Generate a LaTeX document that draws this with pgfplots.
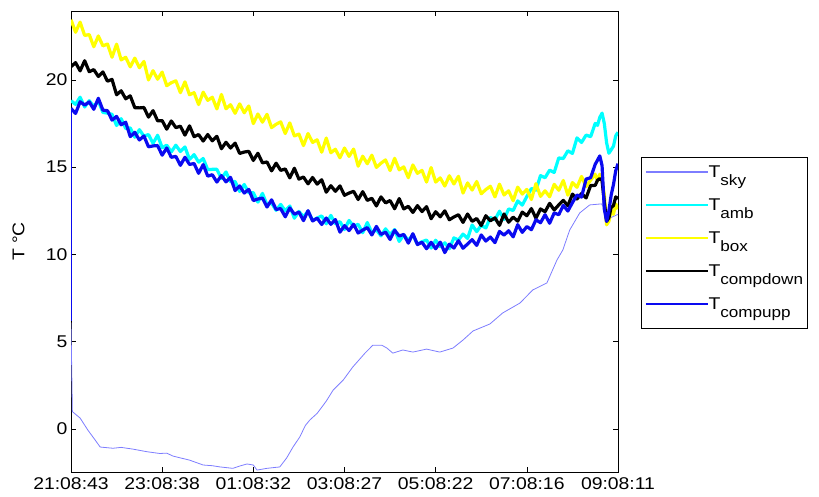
\documentclass[border=0pt]{standalone}
\usepackage{fontspec}
\setmainfont{Liberation Sans}[FakeStretch=1.14]
\usepackage{pgfplots}
\usepackage{pgfplotstable}
\pgfplotsset{compat=1.18}

\definecolor{skycol}{RGB}{125,125,255}
\definecolor{ambcol}{RGB}{0,255,255}
\definecolor{boxcol}{RGB}{255,255,0}
\definecolor{cdncol}{RGB}{0,0,0}
\definecolor{cupcol}{RGB}{10,10,240}

\newcommand{\mainfs}{\fontsize{17}{20}\selectfont}
\newcommand{\subs}[1]{\raisebox{-0.5em}{\fontsize{15}{16}\selectfont #1}}

% logged temperatures, hours after 21:08:43
\pgfplotstableread{
h     amb   box   cdn   cup
0.0   18.81 23.45 20.76 18.37
0.1   18.60 22.73 20.99 18.08
0.2   19.01 23.31 20.52 18.75
0.3   18.45 22.55 21.10 18.56
0.4   18.81 22.60 20.47 18.74
0.5   18.48 21.90 20.59 18.32
0.6   18.79 22.52 20.20 18.95
0.7   18.14 21.95 20.46 18.27
0.8   18.10 22.06 19.93 18.24
0.9   18.03 21.30 20.03 17.70
1.0   17.39 22.05 19.15 17.91
1.1   17.78 21.15 19.38 17.43
1.2   17.22 21.30 18.92 17.58
1.3   17.25 20.75 19.09 16.75
1.4   16.72 21.25 18.41 17.00
1.5   17.15 20.70 18.40 16.56
1.6   16.78 21.06 18.42 16.79
1.7   16.87 20.00 17.87 16.17
1.8   16.37 20.53 18.24 16.22
1.9   16.83 20.04 17.66 16.24
2.0   16.12 20.45 17.67 15.69
2.1   16.26 19.67 17.18 16.10
2.2   15.88 19.84 17.65 15.57
2.3   16.26 19.95 17.27 15.62
2.4   15.90 19.27 17.35 15.11
2.5   16.16 19.89 16.84 15.57
2.6   15.45 19.15 17.37 15.16
2.7   15.72 19.27 16.75 15.21
2.8   15.29 18.59 16.87 14.65
2.9   15.50 19.30 16.50 15.15
3.0   14.86 18.83 16.87 14.49
3.1   14.88 19.01 16.51 14.57
3.2   14.88 18.34 16.77 14.15
3.3   14.35 19.17 16.06 14.52
3.4   14.73 18.35 16.43 14.16
3.5   14.17 18.58 16.10 14.42
3.6   14.18 18.09 16.38 13.66
3.7   13.61 18.63 15.79 13.93
3.8   14.01 18.12 15.87 13.52
3.9   13.54 18.51 15.91 13.73
4.0   13.54 17.50 15.39 13.09
4.1   13.00 18.05 15.80 13.18
4.2   13.50 17.58 15.25 13.23
4.3   12.85 18.03 15.30 12.72
4.4   12.95 17.27 14.79 13.13
4.5   12.53 17.46 15.23 12.58
4.6   12.87 17.60 14.82 12.63
4.7   12.50 16.93 14.90 12.16
4.8   12.78 17.54 14.39 12.67
4.9   12.08 16.79 14.94 12.31
5.0   12.47 16.90 14.32 12.43
5.1   12.16 16.24 14.44 11.94
5.2   12.48 16.93 14.05 12.51
5.3   11.95 16.42 14.41 11.92
5.4   12.09 16.57 14.03 12.08
5.5   12.21 15.86 14.28 11.72
5.6   11.76 16.67 13.57 12.09
5.7   12.24 15.83 13.94 11.73
5.8   11.76 16.03 13.62 12.00
5.9   11.88 15.54 13.93 11.28
6.0   11.43 16.10 13.39 11.65
6.1   11.95 15.62 13.52 11.37
6.2   11.60 16.04 13.62 11.73
6.3   11.73 15.06 13.15 11.23
6.4   11.25 15.63 13.60 11.40
6.5   11.83 15.20 13.10 11.54
6.6   11.25 15.69 13.22 11.12
6.7   11.41 14.99 12.78 11.61
6.8   11.07 15.23 13.30 11.15
6.9   11.47 15.42 12.96 11.28
7.0   11.14 14.81 13.09 10.86
7.1   11.43 15.51 12.62 11.39
7.2   10.75 14.85 13.20 11.06
7.3   11.13 15.02 12.61 11.15
7.4   10.81 14.40 12.76 10.65
7.5   11.13 15.13 12.41 11.19
7.6   10.59 14.65 12.80 10.57
7.7   10.73 14.82 12.46 10.70
7.8   10.83 14.15 12.74 10.33
7.9   10.37 14.98 12.05 10.70
8.0   10.82 14.15 12.45 10.33
8.1   10.45 14.39 12.16 10.71
8.2   10.67 13.92 12.50 10.11
8.3   10.33 14.51 11.99 10.59
8.4   10.95 14.04 12.15 10.37
8.5   10.83 14.48 12.28 10.79
8.6   11.17 13.52 11.84 10.36
8.7   10.92 14.10 12.32 10.60
8.8   11.69 13.69 11.90 10.85
8.9   11.31 14.18 12.06 10.52
9.0   11.67 13.48 11.66 11.12
9.1   11.52 13.72 12.22 10.77
9.2   12.12 13.91 11.93 11.00
9.3   11.99 13.30 12.10 10.68
9.4   12.48 14.03 11.67 11.32
9.5   12.00 13.41 12.32 11.11
9.6   12.61 13.65 11.85 11.36
9.7   12.52 13.08 12.14 11.01
9.8   13.07 13.86 11.91 11.71
9.9   12.83 13.46 12.43 11.27
10.0  13.32 13.73 12.22 11.60
10.1  13.78 13.15 12.63 11.42
10.2  13.69 14.06 12.08 11.99
10.3  14.52 13.33 12.61 11.82
10.4  14.40 13.65 12.45 12.28
10.5  14.83 13.31 12.93 11.79
10.6  14.70 14.02 12.55 12.38
10.7  15.53 13.68 12.84 12.28
10.8  15.50 14.24 13.10 12.81
10.9  15.94 13.40 12.79 12.49
11.0  15.79 14.12 13.46 12.97
11.1  16.68 13.85 13.18 13.41
11.2  16.42 14.47 13.49 13.29
11.3  16.84 13.89 13.24 14.32
11.4  16.75 14.26 13.95 14.40
11.5  17.51 14.60 13.96 15.17
11.55 17.40 14.20 14.25 15.40
11.6  17.85 14.60 14.35 15.65
11.65 18.10 14.30 14.25 15.10
11.7  17.50 13.40 13.00 12.60
11.75 16.40 11.70 11.90 11.90
11.8  15.80 11.90 12.10 12.50
11.85 16.00 12.50 12.70 13.40
11.9  16.20 12.30 12.80 14.00
11.95 16.80 12.90 13.30 14.80
12.0  17.00 12.60 13.20 15.20
}\tempdata

\begin{document}
\begin{tikzpicture}
\path[use as bounding box] (0pt,0pt) rectangle (819pt,497pt);
\begin{axis}[
  at={(71pt,25pt)}, anchor=south west,
  scale only axis, width=547pt, height=461pt,
  xmin=0, xmax=12, ymin=-2.46, ymax=23.95,
  xtick={0,2,4,6,8,10,12},
  xticklabels={21:08:43,23:08:38,01:08:32,03:08:27,05:08:22,07:08:16,09:08:11},
  ytick={0,5,10,15,20},
  /pgf/number format/assume math mode=true,
  tick align=inside, xtick pos=both, ytick pos=both,
  major tick length=5pt,
  tick style={black, line width=0.6pt},
  axis line style={black, line width=0.8pt},
  tick label style={font=\mainfs},
  xticklabel style={yshift=-2pt},
  ylabel={T °C},
  ylabel style={font=\mainfs, at={(axis description cs:-0.096,0.5)}, anchor=center},
  legend style={font=\mainfs, at={(1.042,0.683)}, anchor=north west,
    draw=black, line width=0.8pt, inner xsep=4pt, inner ysep=3pt,
    row sep=0pt,
    nodes={text height=16.5pt, text depth=16.5pt, inner sep=0pt}},
  legend cell align=left,
  legend image code/.code={\draw[#1, line width=1.2pt] (0pt,5pt) -- (62pt,5pt);},
  every axis plot/.append style={line join=round},
]
\addplot[skycol, line width=0.8pt] coordinates {
 (0,6.1) (0.03,1.0) (0.2,0.63) (0.37,-0.06) (0.53,-0.63) (0.64,-1.03)
 (0.92,-1.1) (1.1,-1.05) (1.36,-1.15) (1.67,-1.3) (1.95,-1.4) (2.1,-1.38)
 (2.24,-1.55) (2.6,-1.78) (2.9,-2.06) (3.1,-2.1) (3.27,-2.17) (3.55,-2.25)
 (3.7,-2.12) (3.86,-2.0) (4.0,-2.06) (4.08,-2.35) (4.3,-2.25) (4.58,-2.17)
 (4.73,-1.66) (4.87,-1.03) (5.02,-0.45) (5.14,0.2) (5.24,0.52) (5.4,0.9)
 (5.6,1.6) (5.75,2.23) (5.97,2.8) (6.18,3.55) (6.45,4.35) (6.62,4.8)
 (6.82,4.8) (6.93,4.64) (7.06,4.35) (7.28,4.53) (7.5,4.41) (7.8,4.58)
 (8.09,4.41) (8.38,4.64) (8.6,5.1) (8.82,5.62) (9.19,6.02) (9.47,6.65)
 (9.85,7.22) (10.13,7.97) (10.44,8.37) (10.66,9.68) (10.79,10.26)
 (10.94,11.4) (11.16,12.38) (11.38,12.84) (11.64,12.9) (11.7,12.6)
 (11.75,12.0) (12,12.3)
};
\addlegendentry{T\subs{sky}}
\addplot[color=ambcol, line width=3.2pt] table[x=h, y=amb] {\tempdata};
\addlegendentry{T\subs{amb}}
\addplot[color=boxcol, line width=3.2pt] table[x=h, y=box] {\tempdata};
\addlegendentry{T\subs{box}}
\addplot[color=cdncol, line width=3.2pt] table[x=h, y=cdn] {\tempdata};
\addlegendentry{T\subs{compdown}}
\addplot[color=cupcol, line width=3.2pt] table[x=h, y=cup] {\tempdata};
\addlegendentry{T\subs{compupp}}
% first reading of the upper compartment sensor
\addplot[cupcol, line width=0.8pt, forget plot] coordinates {(0,6.2) (0,18.3)};
\end{axis}
\end{tikzpicture}
\end{document}
